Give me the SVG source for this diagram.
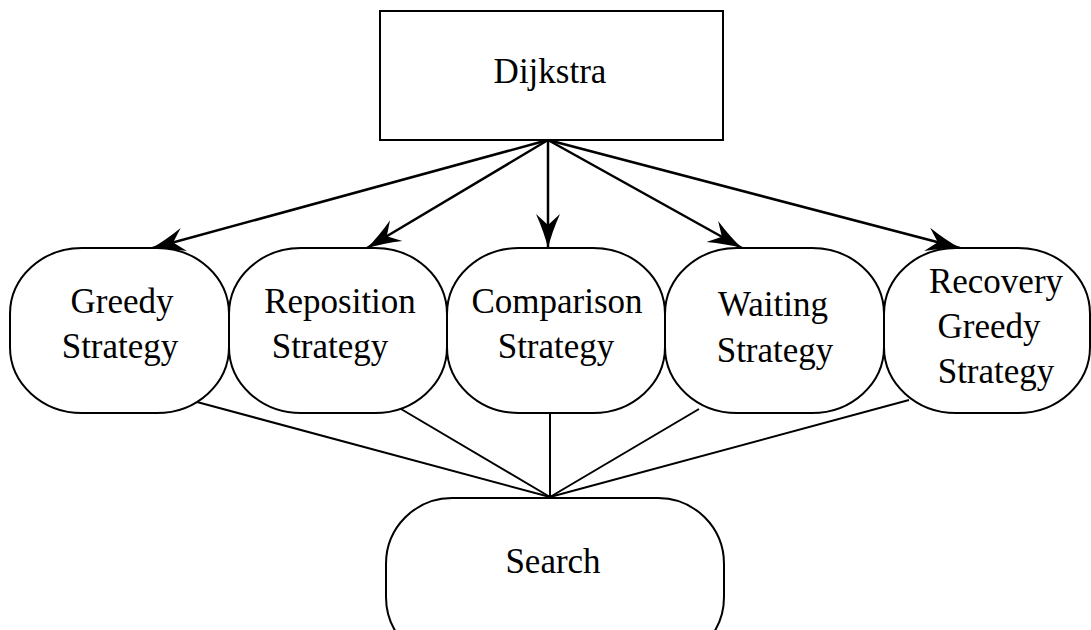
<svg xmlns="http://www.w3.org/2000/svg" width="1091" height="630" viewBox="0 0 1091 630">
  <style>
    .box { fill: #ffffff; stroke: #000000; stroke-width: 2; }
    .lbl { font-family: "Liberation Serif", "Times New Roman", serif; font-size: 35px; fill: #000000; text-anchor: middle; }
    .arrow { fill: none; stroke: #000000; stroke-width: 2.5; }
    .link { fill: none; stroke: #000000; stroke-width: 2; }
  </style>
  <defs>
    <marker id="head" markerUnits="userSpaceOnUse" viewBox="-36 -13 38 26" refX="0" refY="0" markerWidth="38" markerHeight="26" orient="auto">
      <path d="M0,0 Q-16,-4 -34,-12 L-23,0 L-34,12 Q-16,4 0,0 Z" fill="#000000"/>
    </marker>
  </defs>
  <rect width="1091" height="630" fill="#ffffff"/>

  <!-- connectors: fan-out from Dijkstra, fan-in to Search -->
  <g id="connectors">
    <path class="arrow" d="M548,140 L151,248.5" marker-end="url(#head)"/>
    <path class="arrow" d="M548,140 L367,248" marker-end="url(#head)"/>
    <path class="arrow" d="M548,140 L548,248" marker-end="url(#head)"/>
    <path class="arrow" d="M548,140 L742,248" marker-end="url(#head)"/>
    <path class="arrow" d="M548,140 L960,248" marker-end="url(#head)"/>
    <path class="link" d="M197,402 L550,497"/>
    <path class="link" d="M401,409 L550,497"/>
    <path class="link" d="M550,413 L550,497"/>
    <path class="link" d="M699,409 L550,497"/>
    <path class="link" d="M909,400 L550,497"/>
  </g>

  <g id="dijkstra">
    <rect class="box" x="380" y="11" width="343" height="129"/>
    <text class="lbl" x="550" y="83">Dijkstra</text>
  </g>

  <g id="greedy">
    <rect class="box" x="10" y="248" width="219" height="165" rx="72" ry="66"/>
    <text class="lbl" x="122" y="313">Greedy</text>
    <text class="lbl" x="120" y="358">Strategy</text>
  </g>

  <g id="reposition">
    <rect class="box" x="229" y="248" width="218" height="165" rx="72" ry="66"/>
    <text class="lbl" x="340" y="313">Reposition</text>
    <text class="lbl" x="330" y="358">Strategy</text>
  </g>

  <g id="comparison">
    <rect class="box" x="447" y="248" width="218" height="165" rx="72" ry="66"/>
    <text class="lbl" x="557" y="313">Comparison</text>
    <text class="lbl" x="556" y="358">Strategy</text>
  </g>

  <g id="waiting">
    <rect class="box" x="665" y="248" width="219" height="165" rx="72" ry="66"/>
    <text class="lbl" x="773" y="316">Waiting</text>
    <text class="lbl" x="775" y="362">Strategy</text>
  </g>

  <g id="recovery">
    <rect class="box" x="884" y="248" width="206" height="165" rx="72" ry="66"/>
    <text class="lbl" x="996" y="293">Recovery</text>
    <text class="lbl" x="989" y="338">Greedy</text>
    <text class="lbl" x="996" y="383">Strategy</text>
  </g>

  <g id="search">
    <rect class="box" x="386" y="498" width="338" height="165" rx="66" ry="66"/>
    <text class="lbl" x="553" y="573">Search</text>
  </g>
</svg>
